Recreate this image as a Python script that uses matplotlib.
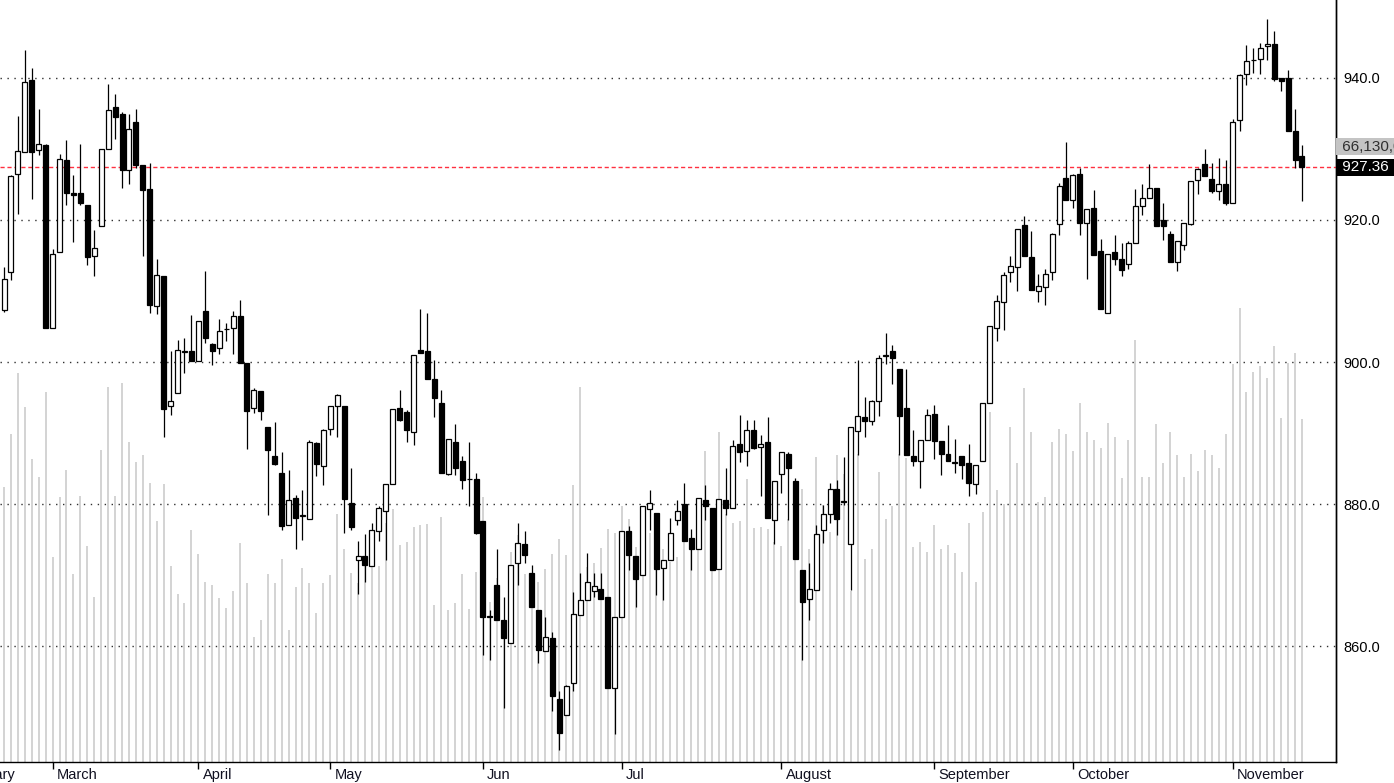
import matplotlib
matplotlib.use("Agg")
import matplotlib.pyplot as plt
import matplotlib.transforms as mtransforms

plt.rcParams['font.family'] = ['Liberation Sans', 'DejaVu Sans']

# daily OHLC, mid February .. mid November
opens = [
    907.3, 912.7, 926.4, 929.5, 939.6, 929.8, 930.5, 904.8, 915.4, 928.4,
    923.8, 923.8, 922.1, 914.9, 919.1, 930.0, 935.8, 934.9, 927.0, 933.7,
    927.7, 924.3, 907.9, 912.1, 893.8, 895.7, 901.4, 901.5, 900.1, 907.2,
    902.6, 902.0, 904.6, 904.8, 906.5, 899.9, 893.6, 895.9, 890.8, 886.8,
    884.4, 877.1, 880.9, 878.4, 877.9, 888.6, 885.4, 890.6, 893.8, 893.8,
    880.2, 872.1, 872.7, 871.3, 876.2, 879.0, 882.8, 893.6, 893.0, 890.1,
    901.7, 901.5, 897.6, 894.2, 884.3, 888.7, 886.1, 883.5, 883.5, 877.6,
    864.3, 868.6, 863.7, 860.5, 871.8, 874.4, 870.4, 865.2, 859.3, 861.2,
    852.6, 850.3, 854.9, 864.4, 866.5, 867.8, 868.1, 866.9, 854.2, 864.1,
    876.2, 872.7, 870.0, 879.3, 878.8, 871.1, 872.1, 877.8, 880.0, 875.3,
    873.7, 880.6, 879.5, 870.9, 880.6, 879.5, 888.5, 887.5, 890.4, 888.1,
    888.7, 877.8, 884.2, 887.0, 883.2, 870.7, 866.7, 868.0, 876.4, 878.6,
    882.1, 880.4, 874.4, 890.3, 892.2, 891.7, 894.5, 900.9, 901.5, 899.0,
    893.6, 886.8, 886.1, 889.0, 892.7, 888.9, 887.0, 885.8, 886.8, 885.8,
    882.9, 886.1, 894.3, 904.8, 908.4, 912.6, 913.3, 919.3, 914.7, 910.0,
    910.5, 912.6, 919.4, 925.9, 922.8, 926.4, 919.6, 921.7, 915.6, 906.9,
    915.4, 914.5, 913.8, 916.8, 921.9, 923.1, 924.5, 920.0, 918.0, 914.0,
    916.4, 919.4, 925.6, 927.8, 925.7, 924.0, 925.0, 922.4, 934.0, 940.5,
    942.4, 942.6, 944.4, 944.7, 940.0, 940.0, 932.5, 929.0,
]
highs = [
    913.3, 926.3, 934.6, 943.9, 941.4, 935.6, 930.6, 915.9, 929.2, 931.2,
    926.3, 930.6, 922.1, 918.6, 929.9, 939.1, 937.7, 935.1, 934.9, 935.6,
    927.7, 928.0, 914.5, 912.1, 901.5, 903.1, 903.4, 906.6, 905.8, 912.8,
    902.7, 906.0, 905.5, 907.2, 908.7, 899.9, 896.4, 895.9, 890.8, 891.5,
    887.3, 884.8, 881.3, 882.0, 889.0, 888.8, 890.6, 893.8, 895.5, 893.8,
    885.1, 874.8, 875.8, 877.4, 879.7, 882.8, 893.4, 896.0, 893.2, 901.0,
    907.5, 906.9, 900.3, 896.0, 889.2, 891.3, 886.8, 888.7, 884.4, 877.6,
    865.1, 873.7, 866.9, 871.4, 877.4, 876.2, 871.4, 865.2, 864.1, 862.1,
    853.7, 854.6, 867.6, 870.4, 873.2, 870.4, 870.4, 866.9, 864.1, 876.2,
    876.9, 872.7, 879.7, 882.0, 878.8, 872.2, 878.1, 880.6, 883.0, 876.5,
    880.9, 882.7, 879.5, 880.8, 885.1, 889.0, 892.5, 891.8, 891.8, 889.7,
    892.2, 883.2, 887.3, 887.3, 883.7, 870.7, 871.8, 877.1, 879.9, 883.0,
    883.4, 886.6, 890.8, 900.3, 895.1, 894.6, 901.0, 904.1, 902.4, 899.0,
    899.0, 890.4, 889.0, 893.4, 893.9, 888.9, 891.1, 889.2, 886.8, 888.5,
    885.5, 894.3, 905.0, 909.4, 912.6, 914.9, 918.7, 920.5, 918.4, 912.4,
    913.1, 918.2, 925.2, 930.9, 926.4, 927.3, 921.5, 924.2, 917.3, 915.2,
    917.8, 916.8, 917.0, 924.3, 925.0, 927.8, 924.5, 922.4, 918.4, 917.0,
    919.6, 925.4, 927.3, 929.9, 928.0, 928.7, 928.4, 934.2, 940.5, 944.6,
    944.2, 944.9, 948.2, 946.5, 940.0, 941.1, 935.6, 930.5,
]
lows = [
    907.0, 911.5, 920.8, 929.5, 922.9, 929.1, 904.8, 904.8, 915.4, 922.1,
    916.9, 922.1, 913.6, 912.1, 919.1, 930.0, 931.3, 924.5, 925.0, 927.3,
    914.9, 906.9, 906.7, 889.4, 892.5, 895.7, 898.5, 900.1, 900.1, 902.7,
    899.6, 901.1, 903.0, 901.1, 899.9, 887.7, 892.9, 891.8, 878.5, 885.5,
    876.4, 877.1, 873.7, 875.0, 877.9, 884.0, 882.7, 889.7, 889.4, 876.0,
    876.4, 867.4, 869.0, 871.3, 874.9, 872.1, 882.8, 891.7, 888.7, 888.3,
    901.3, 897.6, 892.2, 884.4, 884.1, 884.1, 882.1, 879.7, 875.8, 858.8,
    858.1, 863.7, 851.4, 860.5, 868.6, 871.8, 865.5, 857.7, 859.3, 851.0,
    845.4, 850.3, 853.8, 864.4, 866.5, 866.9, 866.7, 854.2, 847.7, 864.1,
    870.7, 865.5, 870.0, 876.4, 867.2, 866.5, 872.1, 877.1, 874.9, 870.7,
    873.7, 877.8, 870.7, 870.9, 878.5, 879.5, 885.9, 885.4, 887.7, 881.1,
    878.0, 874.4, 881.6, 877.8, 872.3, 858.1, 863.7, 868.0, 874.6, 877.4,
    875.7, 879.9, 867.9, 886.9, 889.4, 891.1, 892.4, 899.7, 896.9, 886.9,
    886.9, 885.4, 882.3, 889.0, 886.3, 884.1, 886.1, 884.4, 883.5, 881.1,
    881.4, 886.1, 894.3, 903.0, 904.5, 911.2, 910.0, 914.9, 910.1, 908.4,
    908.0, 911.5, 917.8, 922.8, 921.7, 917.8, 911.7, 915.0, 907.4, 906.9,
    913.6, 912.1, 913.1, 916.8, 920.7, 923.1, 919.1, 917.1, 914.0, 912.8,
    915.7, 919.3, 923.6, 926.1, 923.8, 922.8, 922.1, 922.4, 932.5, 938.9,
    940.7, 940.5, 942.5, 939.5, 938.1, 932.5, 927.3, 922.6,
]
closes = [
    911.7, 926.1, 929.6, 939.4, 929.5, 930.6, 904.8, 915.2, 928.5, 923.7,
    923.5, 922.3, 914.7, 916.1, 929.9, 935.4, 934.5, 927.0, 932.8, 927.7,
    924.2, 908.0, 912.2, 893.4, 894.5, 901.7, 901.6, 900.1, 905.8, 903.4,
    901.5, 904.3, 904.7, 906.5, 899.9, 893.1, 896.0, 893.1, 887.6, 885.7,
    876.9, 880.6, 878.1, 878.5, 888.7, 885.6, 890.4, 893.8, 895.3, 880.8,
    876.8, 872.7, 871.4, 876.4, 879.5, 882.8, 893.4, 891.8, 890.4, 901.0,
    901.3, 897.6, 895.0, 884.4, 889.2, 885.1, 883.4, 883.6, 876.0, 864.1,
    864.1, 863.7, 861.2, 871.4, 874.6, 872.8, 865.5, 859.5, 861.4, 853.0,
    847.9, 854.4, 864.5, 866.5, 869.0, 868.5, 866.7, 854.2, 864.1, 876.2,
    872.8, 869.5, 879.7, 880.2, 870.9, 872.1, 876.0, 879.0, 874.9, 873.7,
    880.9, 879.7, 870.7, 880.8, 879.5, 888.2, 887.3, 890.4, 887.9, 888.5,
    878.0, 883.2, 887.3, 885.1, 872.3, 866.2, 868.1, 875.8, 878.6, 882.1,
    877.9, 880.3, 890.8, 892.4, 891.7, 894.5, 900.5, 901.0, 900.5, 892.4,
    886.9, 886.1, 889.0, 892.5, 888.9, 887.0, 886.1, 885.9, 885.5, 883.0,
    885.5, 894.3, 905.0, 908.6, 912.2, 913.5, 918.7, 914.9, 910.1, 910.7,
    912.4, 918.0, 924.7, 922.8, 926.3, 919.6, 921.5, 915.0, 907.4, 915.2,
    914.5, 912.9, 916.8, 921.9, 923.1, 924.5, 919.1, 919.1, 914.0, 917.0,
    919.6, 925.4, 927.1, 926.1, 924.0, 925.0, 922.4, 933.7, 940.4, 942.3,
    942.5, 944.2, 944.7, 939.8, 939.5, 932.5, 928.4, 927.36,
]
# volume in millions
volumes = [
    53.1, 63.2, 75.0, 68.5, 58.4, 55.0, 71.4, 39.6, 51.2, 56.3,
    36.2, 51.4, 41.7, 31.9, 60.1, 72.4, 51.4, 73.1, 61.8, 57.9,
    59.2, 53.8, 46.4, 53.6, 37.9, 32.4, 30.7, 44.7, 40.1, 34.8,
    34.1, 31.6, 29.7, 32.9, 42.3, 34.5, 24.2, 27.3, 36.2, 34.5,
    39.1, 25.4, 33.8, 37.5, 34.5, 28.7, 34.5, 36.0, 47.8, 41.1,
    36.4, 34.5, 39.1, 43.2, 37.9, 46.1, 48.8, 41.8, 42.5, 45.4,
    45.7, 45.9, 30.3, 47.3, 29.3, 30.6, 36.2, 29.5, 36.7, 51.2,
    30.9, 35.5, 26.8, 40.6, 43.8, 36.2, 31.9, 34.8, 37.2, 40.1,
    43.0, 39.9, 53.4, 72.4, 37.7, 38.4, 41.3, 44.9, 44.1, 49.3,
    46.8, 41.5, 45.7, 44.1, 46.8, 41.1, 38.6, 39.6, 44.9, 41.1,
    41.5, 59.9, 38.2, 63.7, 47.8, 46.1, 46.4, 54.6, 45.1, 45.4,
    44.9, 42.5, 41.7, 46.8, 54.1, 52.6, 41.1, 58.9, 49.5, 44.4,
    59.2, 55.5, 32.9, 59.4, 39.1, 41.1, 56.0, 46.8, 49.3, 59.4,
    58.6, 41.5, 42.5, 40.6, 45.7, 41.1, 41.8, 40.3, 36.7, 46.1,
    34.8, 48.3, 67.6, 52.4, 49.7, 64.7, 57.6, 72.1, 63.7, 50.2,
    51.2, 61.8, 64.2, 63.2, 59.9, 69.2, 63.7, 62.1, 60.6, 65.4,
    62.7, 54.7, 62.1, 81.5, 55.0, 55.0, 65.2, 57.6, 63.7, 59.2,
    55.0, 59.4, 56.2, 60.1, 59.2, 56.7, 63.2, 76.7, 87.5, 71.4,
    75.3, 76.4, 74.1, 80.3, 66.3, 76.9, 78.9, 66.13,
]

# first trading day of each month (bar index)
month_names = ['March', 'April', 'May', 'Jun', 'Jul', 'August',
               'September', 'October', 'November']
month_start = [7, 28, 47, 69, 89, 112, 134, 154, 177]

last_price = closes[-1]
price_ticks = [860, 880, 900, 920, 940]

idx = list(range(len(closes)))

fig = plt.figure(figsize=(13.94, 7.83), dpi=100)
ax_v = fig.add_axes([0, 1 - 762 / 783, 1336 / 1394, 762 / 783])
ax = ax_v.twinx()

# volume bars behind
ax_v.vlines(idx, 0, volumes, colors='#c8c8c8', linewidth=1.1)
ax_v.set_ylim(0, 147)
ax_v.set_yticks([])
ax_v.set_xlim(-0.58, 191.9)

for s in ['top', 'left']:
    ax_v.spines[s].set_visible(False)
    ax.spines[s].set_visible(False)
ax_v.spines['bottom'].set_linewidth(1)
ax_v.spines['right'].set_linewidth(1)
ax.spines['bottom'].set_visible(False)
ax.spines['right'].set_linewidth(1)

ax_v.set_xticks(month_start)
ax_v.tick_params(axis='x', direction='out', length=5, width=1, labelbottom=False)
for name, m in zip(month_names, month_start):
    ax_v.annotate(name, xy=(m, 0), xycoords=('data', 'axes fraction'),
                  xytext=(3, -4), textcoords='offset points',
                  ha='left', va='top', fontsize=10.5, color='#101020',
                  annotation_clip=False)
# only the tail of the february label is visible at the left edge
ax_v.annotate('February', xy=(1.6, 0), xycoords=('data', 'axes fraction'),
              xytext=(0, -4), textcoords='offset points',
              ha='right', va='top', fontsize=10.5, color='#101020',
              annotation_clip=False)

# price candles
ax.set_ylim(843.76, 950.9)
ax.set_yticks(price_ticks)
ax.set_yticklabels(['%.1f' % p for p in price_ticks])
ax.tick_params(axis='y', length=0, pad=5, labelsize=10.5)
ax.grid(axis='y', linestyle=(0, (1, 4)), color='#303030', linewidth=1)
ax.set_axisbelow(True)

ax.axhline(last_price, color='#ff3040', linewidth=1, linestyle=(0, (3, 2)), zorder=1.5)

ax.vlines(idx, lows, highs, colors='black', linewidth=0.9, zorder=2)
bottoms = [min(o, c) for o, c in zip(opens, closes)]
heights = [max(abs(c - o), 0.05) for o, c in zip(opens, closes)]
fills = ['white' if c >= o else 'black' for o, c in zip(opens, closes)]
ax.bar(idx, heights, bottom=bottoms, width=0.72, color=fills,
       edgecolor='black', linewidth=0.9, zorder=3)

# last value labels on the right
tr = mtransforms.blended_transform_factory(ax.transAxes, ax.transData)
ax.text(1.0015, last_price, ' 927.36 ', transform=tr, ha='left', va='center',
        fontsize=11, color='white', clip_on=False,
        bbox=dict(boxstyle='square,pad=0.12', fc='black', ec='none'))
ax.annotate(' 66,130,000', xy=(1.0015, last_price), xycoords=tr,
            xytext=(0, 15), textcoords='offset points',
            ha='left', va='center', fontsize=11, color='#303030',
            annotation_clip=False,
            bbox=dict(boxstyle='square,pad=0.12', fc='#c4c4c4', ec='none'))

fig.savefig('out.png', dpi=100)
